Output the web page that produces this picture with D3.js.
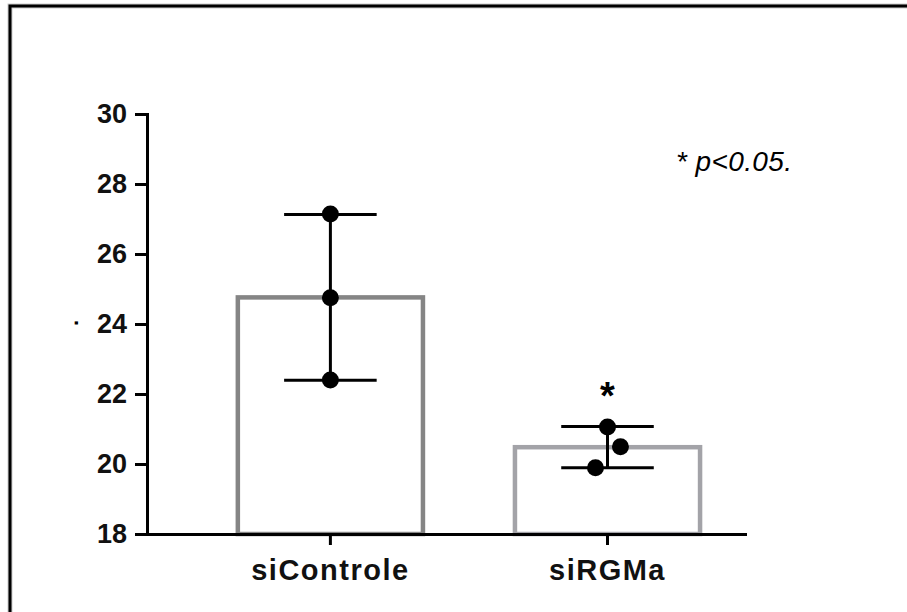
<!DOCTYPE html>
<html>
<head>
<meta charset="utf-8">
<script src="https://cdn.jsdelivr.net/npm/d3@7"></script>
<style>
  body { margin: 0; background: #fff; }
  text { font-family: "Liberation Sans", Arial, sans-serif; }
  .axis path, .axis line { stroke: #000; stroke-width: 3; }
  .axis text { font-size: 27px; font-weight: bold; fill: #111; }
  .xaxis text { font-size: 29px; letter-spacing: 1.5px; }
</style>
</head>
<body>
<svg width="907" height="612"></svg>
<script>
const categories = ["siControle", "siRGMa"];
const barMeans = [24.76, 20.48];
const sdValues = [2.37, 0.59];
const replicates = [[27.14, 24.75, 22.40], [21.06, 20.49, 19.89]];
// horizontal scatter of the replicate dots, in fractions of the bar width
const jitter = [[0, 0, 0], [0, 0.07, -0.065]];
const yTicks = [18, 20, 22, 24, 26, 28, 30];
const barColours = ["#858585", "#a3a3a8"];

const svg = d3.select("svg"),
    width = +svg.attr("width"),
    height = +svg.attr("height");

// outer frame (left and top edges)
svg.append("path")
    .attr("d", "M10," + height + "V6H" + width)
    .attr("fill", "none")
    .attr("stroke", "#ccc")
    .attr("stroke-width", 5);
svg.append("path")
    .attr("d", "M10," + height + "V6H" + width)
    .attr("fill", "none")
    .attr("stroke", "#000")
    .attr("stroke-width", 3);

const xScale = d3.scaleBand()
    .domain(categories)
    .range([147, 745])
    .paddingInner(0.332)
    .paddingOuter(0.245)
    .align(0.669);

const yScale = d3.scaleLinear().domain([18, 30]).range([534, 114]);

const g = svg.append("g");

// Bars
g.selectAll(".bar")
  .data(categories)
  .enter().append("rect")
    .attr("class", "bar")
    .attr("x", function(d) { return xScale(d); })
    .attr("y", function(d, i) { return yScale(barMeans[i]); })
    .attr("width", xScale.bandwidth())
    .attr("height", function(d, i) { return yScale(18) - yScale(barMeans[i]); })
    .attr("fill", "#fff")
    .attr("stroke", function(d, i) { return barColours[i]; })
    .attr("stroke-width", 4.5);

// Error bars (mean ± SD)
const capHalf = xScale.bandwidth() / 4;
const err = g.selectAll(".err")
  .data(categories)
  .enter().append("g")
    .attr("class", "err")
    .attr("transform", function(d) { return "translate(" + (xScale(d) + xScale.bandwidth() / 2) + ",0)"; })
    .attr("stroke", "#000")
    .attr("stroke-width", 3);

err.append("line")
    .attr("y1", function(d, i) { return yScale(barMeans[i] - sdValues[i]); })
    .attr("y2", function(d, i) { return yScale(barMeans[i] + sdValues[i]); });
err.append("line")
    .attr("x1", -capHalf).attr("x2", capHalf)
    .attr("y1", function(d, i) { return yScale(barMeans[i] + sdValues[i]); })
    .attr("y2", function(d, i) { return yScale(barMeans[i] + sdValues[i]); });
err.append("line")
    .attr("x1", -capHalf).attr("x2", capHalf)
    .attr("y1", function(d, i) { return yScale(barMeans[i] - sdValues[i]); })
    .attr("y2", function(d, i) { return yScale(barMeans[i] - sdValues[i]); });

// Replicate dots
const dots = [];
categories.forEach(function(c, i) {
  replicates[i].forEach(function(v, j) { dots.push({cat: c, value: v, dx: jitter[i][j]}); });
});
g.selectAll(".dot")
  .data(dots)
  .enter().append("circle")
    .attr("class", "dot")
    .attr("cx", function(d) { return xScale(d.cat) + xScale.bandwidth() * (0.5 + d.dx); })
    .attr("cy", function(d) { return yScale(d.value); })
    .attr("r", 8.5)
    .attr("fill", "#000");

// Axes
g.append("g")
    .attr("class", "axis")
    .attr("transform", "translate(147,0)")
    .call(d3.axisLeft(yScale).tickValues(yTicks).tickSize(12).tickPadding(8).tickSizeOuter(0));

g.append("g")
    .attr("class", "axis xaxis")
    .attr("transform", "translate(0,534)")
    .call(d3.axisBottom(xScale).tickSize(11).tickPadding(14).tickSizeOuter(0));

g.selectAll(".axis .domain").attr("stroke-linecap", "square");

// y axis title (a single dot in the original)
svg.append("text")
    .attr("transform", "translate(70,323) rotate(-90)")
    .attr("text-anchor", "middle")
    .attr("dy", "0.35em")
    .style("font-size", "22px")
    .style("font-weight", "bold")
    .text(".");

// significance marker
svg.append("text")
    .attr("x", xScale("siRGMa") + xScale.bandwidth() / 2)
    .attr("y", yScale(barMeans[1] + sdValues[1]) - 18)
    .attr("text-anchor", "middle")
    .style("font-size", "38px")
    .style("font-weight", "bold")
    .text("*");

svg.append("text")
    .attr("x", 676)
    .attr("y", 171)
    .style("font-size", "28px")
    .style("font-style", "italic")
    .style("letter-spacing", "0.4px")
    .text("* p<0.05.");
</script>
</body>
</html>
